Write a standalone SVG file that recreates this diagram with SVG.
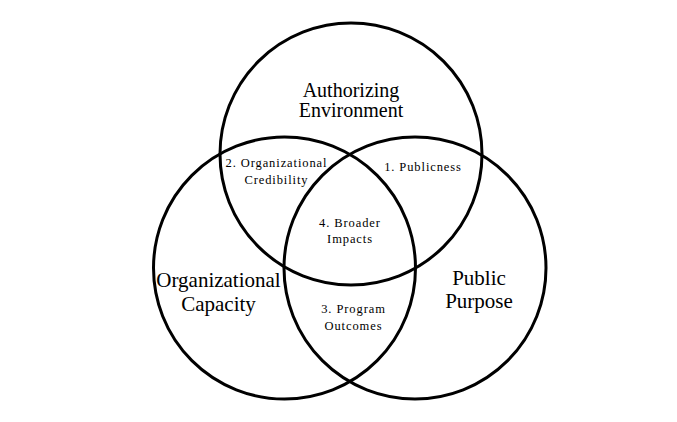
<svg xmlns="http://www.w3.org/2000/svg" width="677" height="422" viewBox="0 0 677 422">
<style>
.c{fill:none;stroke:#000;stroke-width:3}
.big{font-family:"Liberation Serif","Times New Roman",serif;font-size:21px;fill:#000;text-anchor:middle}
.sm{font-family:"Liberation Serif","Times New Roman",serif;font-size:12.5px;fill:#000;text-anchor:middle;letter-spacing:0.9px}
</style>
<rect width="677" height="422" fill="#fff"/>
<g id="authorizing-environment">
<circle class="c" cx="351" cy="154" r="131"/>
<text class="big" x="351" y="97" style="font-size:20px">Authorizing</text>
<text class="big" x="351" y="117" style="font-size:20px">Environment</text>
</g>
<g id="organizational-capacity">
<circle class="c" cx="284.5" cy="268" r="131"/>
<text class="big" x="218.5" y="287">Organizational</text>
<text class="big" x="218.5" y="311">Capacity</text>
</g>
<g id="public-purpose">
<circle class="c" cx="415" cy="268" r="131"/>
<text class="big" x="479" y="285">Public</text>
<text class="big" x="479" y="308">Purpose</text>
</g>
<g id="region-1">
<text class="sm" x="423" y="171">1. Publicness</text>
</g>
<g id="region-2">
<text class="sm" x="276.5" y="167">2. Organizational</text>
<text class="sm" x="276.5" y="184">Credibility</text>
</g>
<g id="region-3">
<text class="sm" x="353.5" y="313">3. Program</text>
<text class="sm" x="353.5" y="330">Outcomes</text>
</g>
<g id="region-4">
<text class="sm" x="350" y="227">4. Broader</text>
<text class="sm" x="350" y="243">Impacts</text>
</g>
<g id="connectors"/>
</svg>
